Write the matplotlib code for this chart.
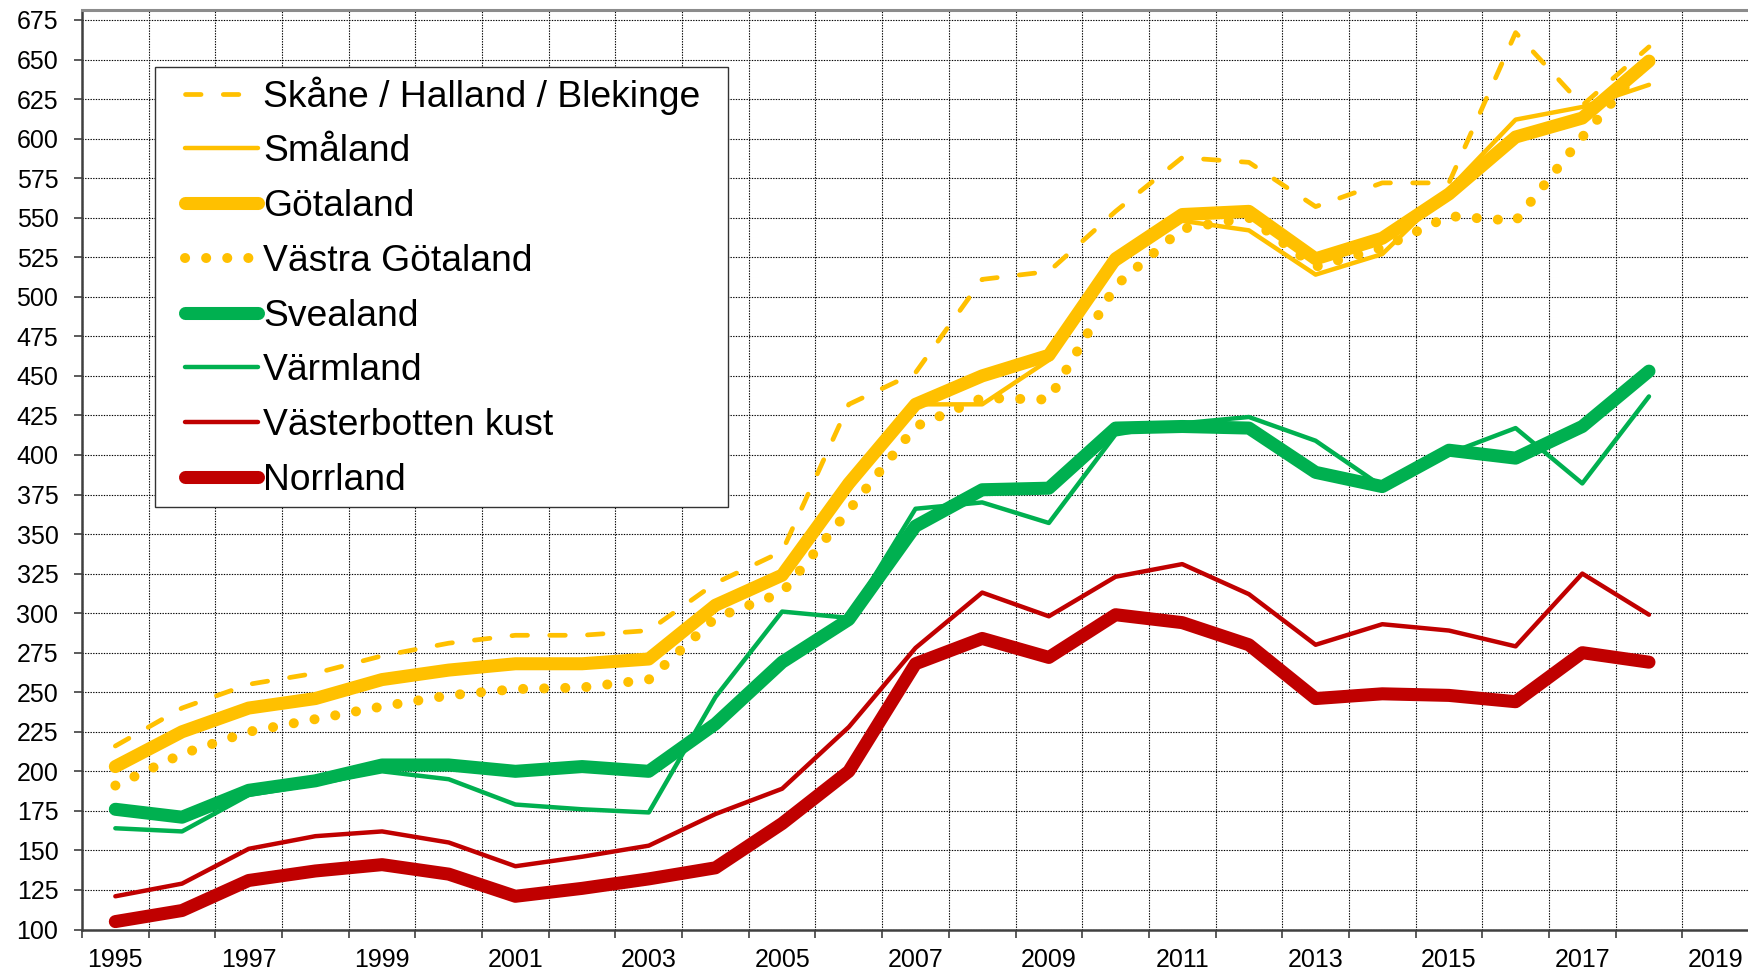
import numpy as np
import matplotlib
matplotlib.use("Agg")
import matplotlib.pyplot as plt
from matplotlib.patches import Rectangle

plt.rcParams['font.family'] = ['Liberation Sans', 'DejaVu Sans']

# ---- data ----
years = list(range(1995, 2019))

skane = [216, 240, 255, 262, 273, 281, 286, 286, 289, 319, 339, 432,
         452, 511, 516, 554, 588, 585, 557, 572, 572, 667, 621, 658]
smaland = [203, 227, 240, 247, 258, 264, 268, 268, 271, 303, 325, 378,
           432, 432, 460, 520, 548, 542, 514, 527, 568, 612, 620, 634]
gotaland = [203, 225, 240, 246, 258, 264, 268, 268, 271, 305, 324, 382,
            432, 450, 463, 524, 552, 554, 524, 537, 565, 601, 613, 649]
vastra_gotaland = [191, 211, 225, 233, 241, 248, 252, 253, 258, 297, 313, 365,
                   418, 436, 435, 507, 543, 550, 519, 531, 551, 548, 601, 650]
svealand = [176, 171, 188, 194, 204, 204, 200, 203, 200, 230, 269, 296,
            355, 378, 379, 417, 418, 417, 389, 380, 403, 398, 418, 453]
varmland = [164, 162, 185, 192, 200, 195, 179, 176, 174, 247, 301, 297,
            366, 370, 357, 413, 420, 424, 409, 380, 401, 417, 382, 437]
vasterbotten = [121, 129, 151, 159, 162, 155, 140, 146, 153, 173, 189, 228,
                278, 313, 298, 323, 331, 312, 280, 293, 289, 279, 325, 299]
norrland = [105, 112, 131, 137, 141, 135, 121, 126, 132, 139, 167, 200,
            268, 284, 272, 299, 294, 280, 246, 249, 248, 244, 275, 269]

labels = ['Skåne / Halland / Blekinge', 'Småland', 'Götaland', 'Västra Götaland',
          'Svealand', 'Värmland', 'Västerbotten kust', 'Norrland']
year_labels = list(range(1995, 2020, 2))
y_ticks = list(range(100, 676, 25))

YELLOW = '#FFC000'
GREEN = '#00B050'
RED = '#C00000'

# ---- figure ----
W, H = 1749, 975
fig = plt.figure(figsize=(W / 100, H / 100), dpi=100)
ax = fig.add_axes([82 / W, 1 - 929.5 / H, 1667 / W, 919.5 / H])

common = dict(solid_capstyle='round', solid_joinstyle='round',
              dash_capstyle='round', dash_joinstyle='round')

ax.plot(years, skane, color=YELLOW, lw=3.4, dashes=[3.3, 4.7], label=labels[0], **common)
ax.plot(years, smaland, color=YELLOW, lw=3.2, label=labels[1], **common)
ax.plot(years, gotaland, color=YELLOW, lw=9.4, label=labels[2], **common)
ax.plot(years, vastra_gotaland, color=YELLOW, lw=7.2, dashes=[0.01, 2.1],
        label=labels[3], **common)
ax.plot(years, svealand, color=GREEN, lw=9.4, label=labels[4], **common)
ax.plot(years, varmland, color=GREEN, lw=3.2, label=labels[5], **common)
ax.plot(years, vasterbotten, color=RED, lw=3.2, label=labels[6], **common)
ax.plot(years, norrland, color=RED, lw=9.4, label=labels[7], **common)

# category style x axis: gridlines between years, labels every second year
ax.set_xlim(1994.5, 2019.5)
ax.set_ylim(100, 681.3)
ax.set_xticks(np.arange(1994.5, 2020, 1))
ax.set_xticklabels([])
ax.set_xticks(year_labels, minor=True)
ax.set_xticklabels([str(y) for y in year_labels], minor=True)
ax.tick_params(axis='x', which='minor', length=0, labelsize=18, pad=13)
ax.tick_params(axis='x', which='major', length=6, width=1.2, color='#404040', direction='out')
ax.set_yticks(y_ticks)
ax.tick_params(axis='y', length=6, width=1.2, color='#404040', labelsize=18, pad=11)

ax.grid(True, which='major', color='black', linestyle=(0, (1.2, 1.2)), linewidth=0.8)
ax.set_axisbelow(True)

ax.spines['right'].set_visible(False)
ax.spines['left'].set_color('#404040')
ax.spines['left'].set_linewidth(1.8)
ax.spines['bottom'].set_color('#404040')
ax.spines['bottom'].set_linewidth(1.8)
ax.spines['top'].set_color('#8c8c8c')
ax.spines['top'].set_linewidth(2.2)

# legend box drawn separately so the padding matches
box = Rectangle((155 / W, 1 - 507 / H), 573 / W, 440 / H, transform=fig.transFigure,
                facecolor='white', edgecolor='#333333', linewidth=1.0,
                zorder=4, clip_on=False)
ax.add_patch(box)

leg = ax.legend(loc='upper left', bbox_to_anchor=(176 / W, 1 - 67 / H),
                bbox_transform=fig.transFigure, borderaxespad=0,
                fontsize=26.8, handlelength=1.94, handletextpad=0.15,
                labelspacing=0.53, borderpad=0.25, frameon=False)
leg.set_zorder(5)

fig.savefig('out.png', dpi=100)
